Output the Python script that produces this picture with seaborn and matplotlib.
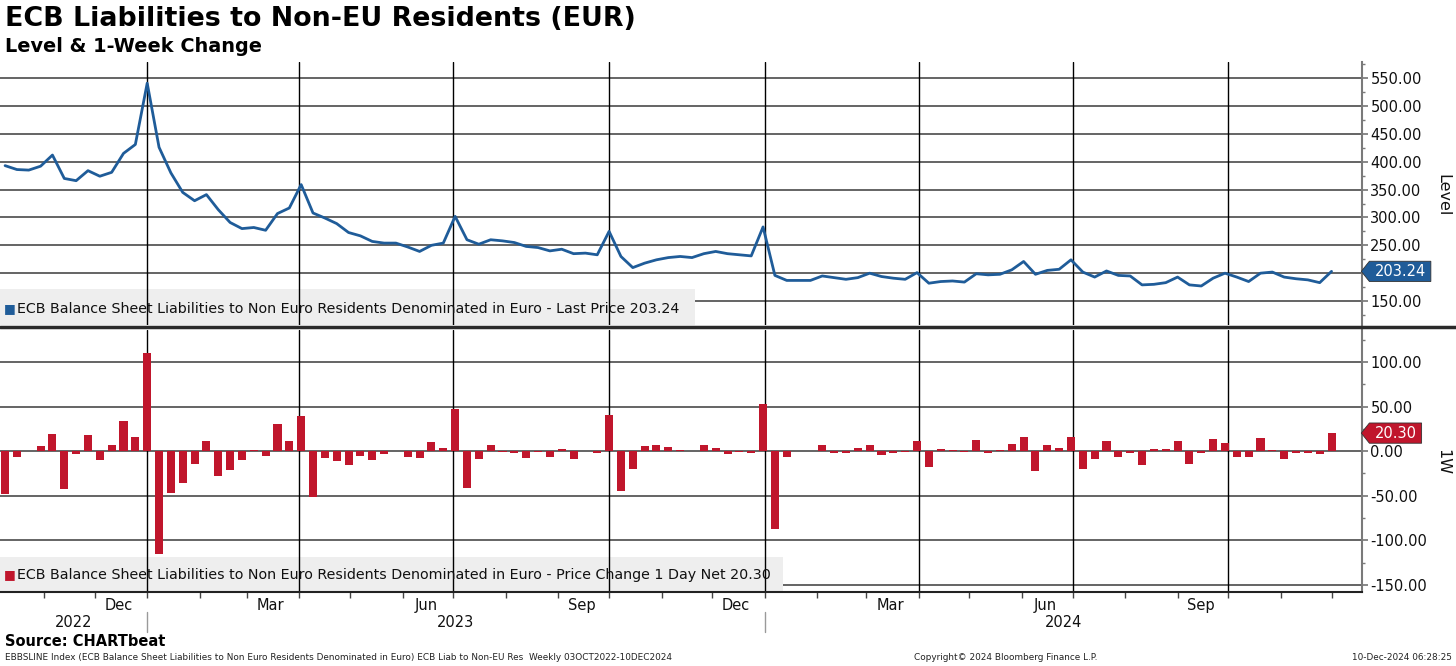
import numpy as np
import pandas as pd
import matplotlib
matplotlib.use("Agg")
import matplotlib.pyplot as plt
import matplotlib.dates as mdates
from matplotlib.lines import Line2D
from matplotlib.patches import Rectangle
from matplotlib.path import Path
import seaborn as sns

first_week = "2022-10-09"

level = [393, 386, 385, 392, 412, 370, 366, 384, 374, 381, 415, 431, 541, 426, 380,
         345, 330, 341, 314, 291, 280, 282, 277, 307, 317, 359, 308, 299, 289,
         273, 267, 257, 254, 254, 247, 239, 250, 254, 302, 260, 252, 260, 258, 255,
         248, 246, 240, 243, 235, 236, 233, 275, 230, 210, 218, 224, 228,
         230, 228, 235, 239, 235, 233, 231, 283, 196, 187, 187, 187, 195, 192, 189,
         192, 200, 194, 191, 189, 201, 182, 185, 186,
         184, 199, 197, 198, 206, 221, 198, 205, 207, 224, 202, 193, 204, 196, 195,
         179, 180, 183, 193, 179, 177, 191, 200, 193, 185, 200, 202, 193, 190, 188,
         183, 203.24]

chg = [-47.5, -6.7, 0.5, 5.6, 19.3, -42.3, -2.6, 17.8, -10.4, 7.4, 33.4, 16.0, 110.0,
       -115.0, -46.4, -35.2, -14.5, 11.1, -27.5, -21.5, -10.4, 1.5, -5.2, 30.0, 11.1,
       40.0, -51.6, -7.4, -11.0,
       -15.2, -5.9, -9.6, -3.3, 0.4, -7.0, -7.4, 10.0, 3.3, 47.7, -41.0, -8.5, 6.7,
       -0.5, -2.2, -7.4, -1.0, -6.3, 3.0, -8.5, 0.5, -1.5, 40.3, -44.4, -19.6, 6.3,
       6.8, 4.2,
       1.9, -0.3, 7.0, 3.7, -3.7, -0.5, -2.2, 52.7, -87.6, -6.3, -0.3, 0.3, 7.0, -2.2,
       -2.2, 3.7, 7.0, -4.8, -2.2, -0.5, 11.5, -17.4, 2.6, 1.1, -0.5, 13.0, -1.5,
       1.5, 7.8, 15.6, -22.7, 7.0, 3.3, 15.6, -20.4, -8.9, 11.1, -7.0, -1.5, -16.0,
       2.6, 2.6, 11.1, -14.9, -1.5, 13.4, 9.3, -7.0, -6.3, 14.5, 1.5, -8.2, -1.5,
       -2.2, -3.0, 20.30]

level_ticks = [150, 200, 250, 300, 350, 400, 450, 500, 550]
chg_ticks = [-150, -100, -50, 0, 50, 100]
month_labels = ["Dec", "Mar", "Jun", "Sep", "Dec", "Mar", "Jun", "Sep"]
years = [2022, 2023, 2024]

series_name = "ECB Balance Sheet Liabilities to Non Euro Residents Denominated in Euro"

BLUE = "#1f5c99"
RED = "#c0162c"
GRID = "#3a3a3a"
SPINE = "#7a7a7a"

dates = pd.date_range(first_week, periods=len(level), freq="7D")
xnum = mdates.date2num(dates)
x0 = mdates.date2num(pd.Timestamp("2022-10-06"))
x1 = mdates.date2num(pd.Timestamp("2024-12-19"))

sns.set_theme(style="white")
plt.rcParams["font.family"] = ["DejaVu Sans"]

fig = plt.figure(figsize=(14.56, 6.66), dpi=100)
ax1 = fig.add_axes([0, 1 - 325 / 666, 1362 / 1456, 263 / 666])
ax2 = fig.add_axes([0, 1 - 592 / 666, 1362 / 1456, 262 / 666])

# top: level line
sns.lineplot(x=xnum, y=level, ax=ax1, color=BLUE, linewidth=2, zorder=3)
# bottom: weekly change bars
sns.barplot(x=xnum, y=chg, ax=ax2, native_scale=True, orient="x", color=RED,
            saturation=1, width=0.68, errorbar=None, zorder=3, linewidth=0)

quarters = pd.date_range("2023-01-01", "2024-10-01", freq="QS")
for ax in (ax1, ax2):
    ax.set_xlim(x0, x1)
    ax.set_axisbelow(True)
    ax.grid(axis="y", color=GRID, linewidth=1.1)
    ax.grid(axis="x", visible=False)
    for q in quarters:
        ax.axvline(mdates.date2num(q), color="black", linewidth=1, zorder=1.5)
    ax.yaxis.tick_right()
    ax.yaxis.set_label_position("right")
    for s in ("top", "left", "bottom"):
        ax.spines[s].set_visible(False)
    ax.spines["right"].set_color(SPINE)
    ax.spines["right"].set_linewidth(1.5)
    ax.tick_params(axis="y", which="both", direction="out", color=SPINE, right=True,
                   labelsize=10.5, pad=2, labelcolor="#111111")
    ax.tick_params(axis="y", which="major", length=4)
    ax.tick_params(axis="y", which="minor", length=2.5)
    ax.set_xlabel("")
    ax.set_ylabel("")

# the last-value tag sits where the 200.00 label would be
ax1.set_ylim(107, 579)
ax1.set_yticks(level_ticks, ["" if v == 200 else f"{v:.2f}" for v in level_ticks])
ax1.set_yticks(np.arange(125, 579, 25), minor=True)
ax1.set_xticks([])

ax2.set_ylim(-158, 136)
ax2.set_yticks(chg_ticks, [f"{v:.2f}" for v in chg_ticks])
ax2.set_yticks(np.arange(-150, 136, 25), minor=True)
ax2.spines["bottom"].set_visible(True)
ax2.spines["bottom"].set_color("#222222")
ax2.spines["bottom"].set_linewidth(1.5)

label_months = pd.date_range("2022-12-01", "2024-09-01", freq="3MS") + pd.Timedelta(days=14)
ax2.set_xticks(mdates.date2num(label_months), month_labels)
ax2.set_xticks(mdates.date2num(pd.date_range("2022-11-01", "2024-12-01", freq="MS")), minor=True)
ax2.tick_params(axis="x", which="major", length=0, pad=4, labelsize=10.5, labelcolor="#111111")
ax2.tick_params(axis="x", which="minor", bottom=True, length=4, direction="out", color="#444444")

# year labels and separators under the month labels
for yr in years:
    a = max(mdates.date2num(pd.Timestamp(f"{yr}-01-01")), x0)
    b = min(mdates.date2num(pd.Timestamp(f"{yr + 1}-01-01")), x1)
    ax2.text((a + b) / 2, -0.115, str(yr), transform=ax2.get_xaxis_transform(),
             ha="center", va="center", fontsize=10.5, color="#111111")
for yr in years[1:]:
    xs = mdates.date2num(pd.Timestamp(f"{yr}-01-01"))
    ax2.plot([xs, xs], [-0.076, -0.153], transform=ax2.get_xaxis_transform(),
             color="#9a9a9a", linewidth=1, clip_on=False)

# legend boxes
ax1.add_patch(Rectangle((0, 0), 695 / 1362, 36 / 263, transform=ax1.transAxes,
                        facecolor="#eeeeee", edgecolor="none", zorder=0.8))
ax1.text(0.003, 0.062, "■", transform=ax1.transAxes, color=BLUE, fontsize=9,
         va="center", ha="left", zorder=4)
ax1.text(0.0125, 0.062, f"{series_name} - Last Price {level[-1]:.2f}",
         transform=ax1.transAxes, fontsize=10.3, va="center", ha="left",
         color="#111111", zorder=4)

ax2.add_patch(Rectangle((0, 0.005), 783 / 1362, 34 / 262, transform=ax2.transAxes,
                        facecolor="#eeeeee", edgecolor="none", zorder=0.8))
ax2.text(0.003, 0.066, "■", transform=ax2.transAxes, color=RED, fontsize=9,
         va="center", ha="left", zorder=4)
ax2.text(0.0125, 0.066, f"{series_name} - Price Change 1 Day Net {chg[-1]:.2f}",
         transform=ax2.transAxes, fontsize=10.3, va="center", ha="left",
         color="#111111", zorder=4)


def tag_box(x0, y0, width, height, mutation_size):
    padx = 0.35 * mutation_size
    pady = 0.18 * mutation_size
    l, r = x0 - padx, x0 + width + padx
    b, t = y0 - pady, y0 + height + pady
    tip = (t - b) * 0.4
    verts = [(l, b), (r, b), (r, t), (l, t), (l - tip, (b + t) / 2), (l, b)]
    return Path(verts, closed=True)


for ax, val, col in ((ax1, level[-1], BLUE), (ax2, chg[-1], RED)):
    ax.annotate(f"{val:.2f}", xy=(1, val), xycoords=("axes fraction", "data"),
                xytext=(9, 0), textcoords="offset points", ha="left", va="center",
                fontsize=10.5, color="white", annotation_clip=False, zorder=6,
                bbox=dict(boxstyle=tag_box, fc=col, ec="#333333", lw=0.6))

fig.text(1443 / 1456, 1 - 195 / 666, "Level", rotation=270, ha="center", va="center",
         fontsize=11.5, color="#111111")
fig.text(1443 / 1456, 1 - 462 / 666, "1W", rotation=270, ha="center", va="center",
         fontsize=11.5, color="#111111")

# panel separator
fig.add_artist(Line2D([0, 1], [1 - 327 / 666, 1 - 327 / 666], transform=fig.transFigure,
                      color="#2a2a2a", linewidth=2.5))

fig.text(5 / 1456, 1 - 19 / 666, "ECB Liabilities to Non-EU Residents (EUR)",
         fontsize=19.4, fontweight="bold", ha="left", va="center", color="black")
fig.text(5 / 1456, 1 - 46 / 666, "Level & 1-Week Change",
         fontsize=13.9, fontweight="bold", ha="left", va="center", color="black")
fig.text(5 / 1456, 1 - 642 / 666, "Source: CHARTbeat",
         fontsize=10.5, fontweight="bold", ha="left", va="center", color="black")
fig.text(5 / 1456, 1 - 658 / 666,
         "EBBSLINE Index (ECB Balance Sheet Liabilities to Non Euro Residents Denominated in Euro) "
         "ECB Liab to Non-EU Res  Weekly 03OCT2022-10DEC2024",
         fontsize=6.4, ha="left", va="center", color="#222222")
fig.text(1006 / 1456, 1 - 658 / 666, "Copyright\u00a9 2024 Bloomberg Finance L.P.",
         fontsize=6.4, ha="center", va="center", color="#222222")
fig.text(1452 / 1456, 1 - 658 / 666, "10-Dec-2024 06:28:25",
         fontsize=6.4, ha="right", va="center", color="#222222")

fig.savefig("out.png", dpi=100, facecolor="white")
